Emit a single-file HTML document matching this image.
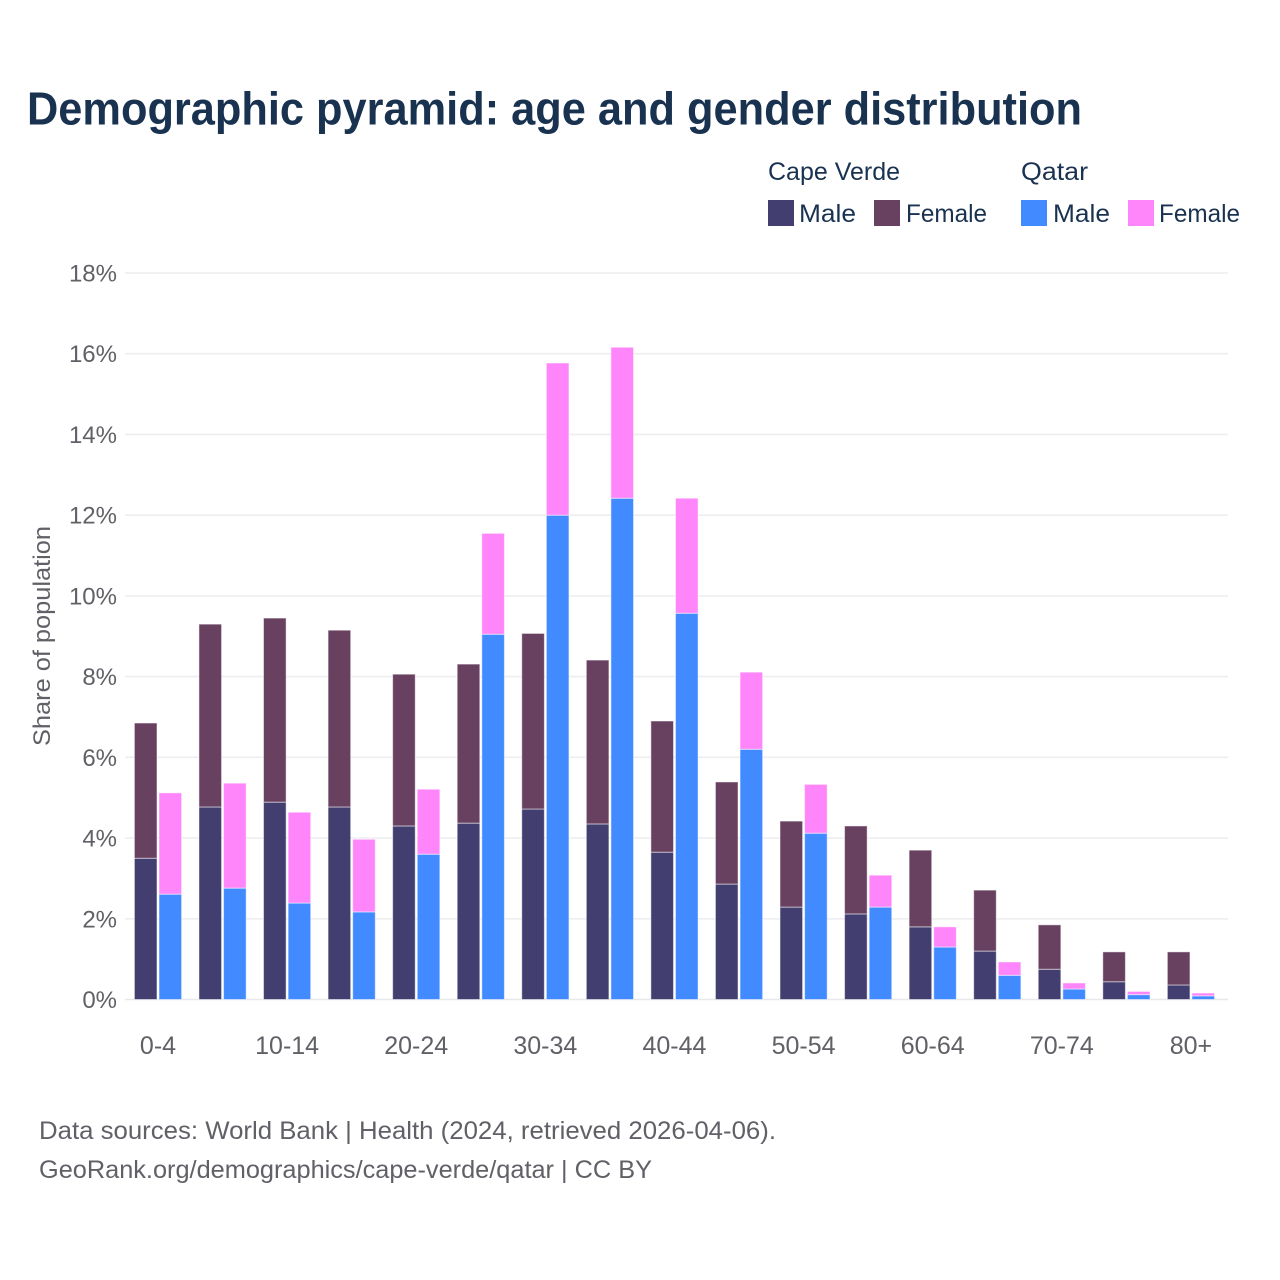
<!DOCTYPE html>
<html lang="en">
<head>
<meta charset="utf-8">
<title>Demographic pyramid: age and gender distribution</title>
<style>
html,body{margin:0;padding:0;background:#fff;width:1280px;height:1280px;overflow:hidden}
svg{display:block}
text{font-family:"Liberation Sans",Arial,sans-serif}
</style>
</head>
<body>
<svg id="chart" xmlns="http://www.w3.org/2000/svg" width="1280" height="1280" viewBox="0 0 1280 1280">
  <rect width="1280" height="1280" fill="#fff"/>
  <text x="27" y="124.5" font-size="46" font-weight="700" fill="#193250" textLength="1055" lengthAdjust="spacingAndGlyphs">Demographic pyramid: age and gender distribution</text>

  <g id="grid"></g>
  <g id="bars"></g>
  <g id="ylabels"></g>
  <g id="xlabels"></g>

  <text transform="translate(50,636) rotate(-90)" text-anchor="middle" font-size="24" fill="#606067" textLength="220" lengthAdjust="spacingAndGlyphs">Share of population</text>

  <g>
    <text x="768" y="180" font-size="25" fill="#193250" textLength="132" lengthAdjust="spacingAndGlyphs">Cape Verde</text>
    <text x="1021" y="180" font-size="25" fill="#193250" textLength="67" lengthAdjust="spacingAndGlyphs">Qatar</text>
    <rect x="768" y="200" width="26" height="26" fill="#423e70"/>
    <text x="799" y="222" font-size="25" fill="#193250" textLength="57" lengthAdjust="spacingAndGlyphs">Male</text>
    <rect x="874" y="200" width="26" height="26" fill="#684060"/>
    <text x="906" y="222" font-size="25" fill="#193250" textLength="81" lengthAdjust="spacingAndGlyphs">Female</text>
    <rect x="1021" y="200" width="26" height="26" fill="#418aff"/>
    <text x="1053" y="222" font-size="25" fill="#193250" textLength="57" lengthAdjust="spacingAndGlyphs">Male</text>
    <rect x="1128" y="200" width="26" height="26" fill="#ff85fa"/>
    <text x="1159" y="222" font-size="25" fill="#193250" textLength="81" lengthAdjust="spacingAndGlyphs">Female</text>
  </g>

  <text x="39" y="1139" font-size="25" fill="#606067" textLength="737" lengthAdjust="spacingAndGlyphs">Data sources: World Bank | Health (2024, retrieved 2026-04-06).</text>
  <text x="39" y="1178" font-size="25" fill="#606067" textLength="613" lengthAdjust="spacingAndGlyphs">GeoRank.org/demographics/cape-verde/qatar | CC BY</text>
</svg>
<script>
const categories = ['0-4','5-9','10-14','15-19','20-24','25-29','30-34','35-39','40-44','45-49','50-54','55-59','60-64','65-69','70-74','75-79','80+'];
const xTickLabels = ['0-4','','10-14','','20-24','','30-34','','40-44','','50-54','','60-64','','70-74','','80+'];
const yTicks = [0,2,4,6,8,10,12,14,16,18];
const capeVerdeMale = [3.50,4.77,4.89,4.77,4.30,4.37,4.72,4.35,3.65,2.86,2.29,2.12,1.80,1.20,0.75,0.44,0.36];
const capeVerdeFemale = [3.35,4.53,4.56,4.38,3.76,3.94,4.35,4.06,3.25,2.53,2.13,2.18,1.90,1.51,1.10,0.74,0.82];
const qatarMale = [2.61,2.76,2.39,2.17,3.60,9.05,12.00,12.42,9.57,6.20,4.12,2.29,1.30,0.60,0.26,0.12,0.09];
const qatarFemale = [2.51,2.60,2.25,1.80,1.61,2.50,3.77,3.74,2.85,1.91,1.21,0.79,0.50,0.33,0.15,0.08,0.07];

const NS = 'http://www.w3.org/2000/svg';
const y0 = 999.5, y18 = 273;
const firstCenter = 158, step = 64.56, barWidth = 22.6, barOffset = 12.3;
const yScale = v => y0 - (v / 18) * (y0 - y18);
const xScale = i => firstCenter + i * step;

const gridG = document.getElementById('grid');
const yLabG = document.getElementById('ylabels');
const xLabG = document.getElementById('xlabels');
const barG = document.getElementById('bars');

yTicks.forEach(t => {
  const line = document.createElementNS(NS, 'line');
  line.setAttribute('x1', 125);
  line.setAttribute('x2', 1228);
  line.setAttribute('y1', yScale(t));
  line.setAttribute('y2', yScale(t));
  line.setAttribute('stroke', t === 0 ? '#e8e8ea' : '#eeeef0');
  line.setAttribute('stroke-width', 1.6);
  
  
  gridG.appendChild(line);

  const label = document.createElementNS(NS, 'text');
  label.setAttribute('x', 117);
  label.setAttribute('y', yScale(t) + 8.5);
  label.setAttribute('text-anchor', 'end');
  label.setAttribute('font-size', 24);
  label.setAttribute('fill', '#606067');
  label.textContent = t + '%';
  
  
  yLabG.appendChild(label);
});

xTickLabels.forEach((t, i) => {
  if (!t) return;
  const label = document.createElementNS(NS, 'text');
  label.setAttribute('x', xScale(i));
  label.setAttribute('y', 1054);
  label.setAttribute('text-anchor', 'middle');
  label.setAttribute('font-size', 25);
  label.setAttribute('fill', '#606067');
  label.textContent = t;
  
  
  xLabG.appendChild(label);
});

function drawSegment(cx, lo, hi, fill, name) {
  const r = document.createElementNS(NS, 'rect');
  r.setAttribute('x', cx - barWidth / 2);
  r.setAttribute('width', barWidth);
  r.setAttribute('y', yScale(hi));
  r.setAttribute('height', Math.max(0, yScale(lo) - yScale(hi)));
  r.setAttribute('fill', fill);
  r.setAttribute('stroke', '#ffffff');
  r.setAttribute('stroke-opacity', '0.5');
  r.setAttribute('stroke-width', 1);
  
  
  barG.appendChild(r);
}

categories.forEach((c, i) => {
  const cxA = xScale(i) - barOffset;
  const cxB = xScale(i) + barOffset;
  drawSegment(cxA, 0, capeVerdeMale[i], '#423e70', 'bar-cape-verde-male-' + c);
  drawSegment(cxA, capeVerdeMale[i], capeVerdeMale[i] + capeVerdeFemale[i], '#684060', 'bar-cape-verde-female-' + c);
  drawSegment(cxB, 0, qatarMale[i], '#418aff', 'bar-qatar-male-' + c);
  drawSegment(cxB, qatarMale[i], qatarMale[i] + qatarFemale[i], '#ff85fa', 'bar-qatar-female-' + c);
});
</script>
</body>
</html>
